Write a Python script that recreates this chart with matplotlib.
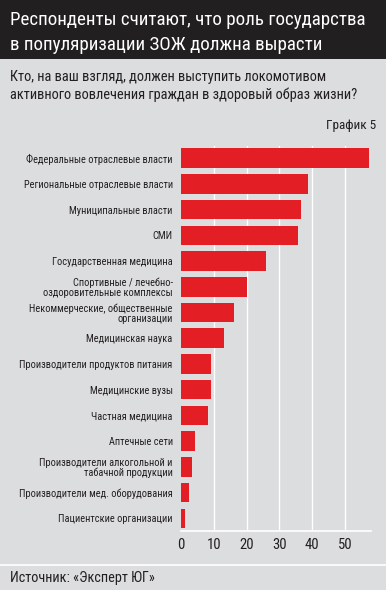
import matplotlib.pyplot as plt
from matplotlib.patches import Rectangle
import numpy as np

categories = [
    "Федеральные отраслевые власти",
    "Региональные отраслевые власти",
    "Муниципальные власти",
    "СМИ",
    "Государственная медицина",
    "Спортивные / лечебно-\nоздоровительные комплексы",
    "Некоммерческие, общественные\nорганизации",
    "Медицинская наука",
    "Производители продуктов питания",
    "Медицинские вузы",
    "Частная медицина",
    "Аптечные сети",
    "Производители алкогольной и\nтабачной продукции",
    "Производители мед. оборудования",
    "Пациентские организации",
]
values = [57.5, 38.7, 36.7, 35.7, 26, 20, 16.2, 13.1, 9.2, 9.2, 8.3, 4.3, 3.4, 2.4, 1.2]
xticks = [0, 10, 20, 30, 40, 50]

plt.rcParams['font.family'] = ['Roboto Condensed', 'DejaVu Sans']

bg = '#dcdddf'
dark = '#221f20'
red = '#e31e25'
ink = '#231f20'

fig = plt.figure(figsize=(3.86, 5.90), dpi=100)
fig.patch.set_facecolor(bg)

W, H = 386, 590
# dark title band
fig.patches.append(Rectangle((0, 1 - 59 / H), 1, 59 / H, transform=fig.transFigure,
                             facecolor=dark, edgecolor='none', zorder=0))
# separator above source
fig.lines.append(plt.Line2D([0, 1], [1 - 565 / H] * 2, transform=fig.transFigure,
                            color='white', lw=1.2))

fig.text(10 / W, 1 - 20 / H, "Респонденты считают, что роль государства",
         color='white', fontsize=13.7, va='center', ha='left')
fig.text(10 / W, 1 - 45 / H, "в популяризации ЗОЖ должна вырасти",
         color='white', fontsize=13.7, va='center', ha='left')
fig.text(10 / W, 1 - 77 / H, "Кто, на ваш взгляд, должен выступить локомотивом",
         color=ink, fontsize=10.4, va='center', ha='left')
fig.text(10 / W, 1 - 95 / H, "активного вовлечения граждан в здоровый образ жизни?",
         color=ink, fontsize=10.4, va='center', ha='left')
fig.text(376 / W, 1 - 125 / H, "График 5", color=ink, fontsize=9.5,
         va='center', ha='right')
fig.text(10 / W, 1 - 578 / H, "Источник: «Эксперт ЮГ»", color=ink,
         fontsize=10.3, va='center', ha='left')

ax = fig.add_axes([181 / W, 1 - 531 / H, (371 - 181) / W, (531 - 146) / H])
ax.set_facecolor(bg)
y = np.arange(len(categories))
ax.barh(y, values, height=0.76, color=red, zorder=3)
ax.set_ylim(14.49, -0.47)
ax.set_xlim(0, 58)
ax.set_yticks(y)
ax.set_yticklabels(categories, fontsize=7.5, color=ink, linespacing=1.0)
ax.set_xticks(xticks)
ax.set_xticklabels([str(t) for t in xticks], fontsize=10.5, color=ink)
ax.tick_params(axis='both', length=0)
ax.tick_params(axis='y', pad=6)
ax.tick_params(axis='x', pad=5)
for t in xticks[1:]:
    ax.axvline(t, color='white', lw=1, zorder=1)
for s in ['top', 'right', 'left']:
    ax.spines[s].set_visible(False)
ax.spines['bottom'].set_color('white')
ax.spines['bottom'].set_linewidth(1.2)

fig.savefig('out.png', dpi=100, facecolor=bg)
